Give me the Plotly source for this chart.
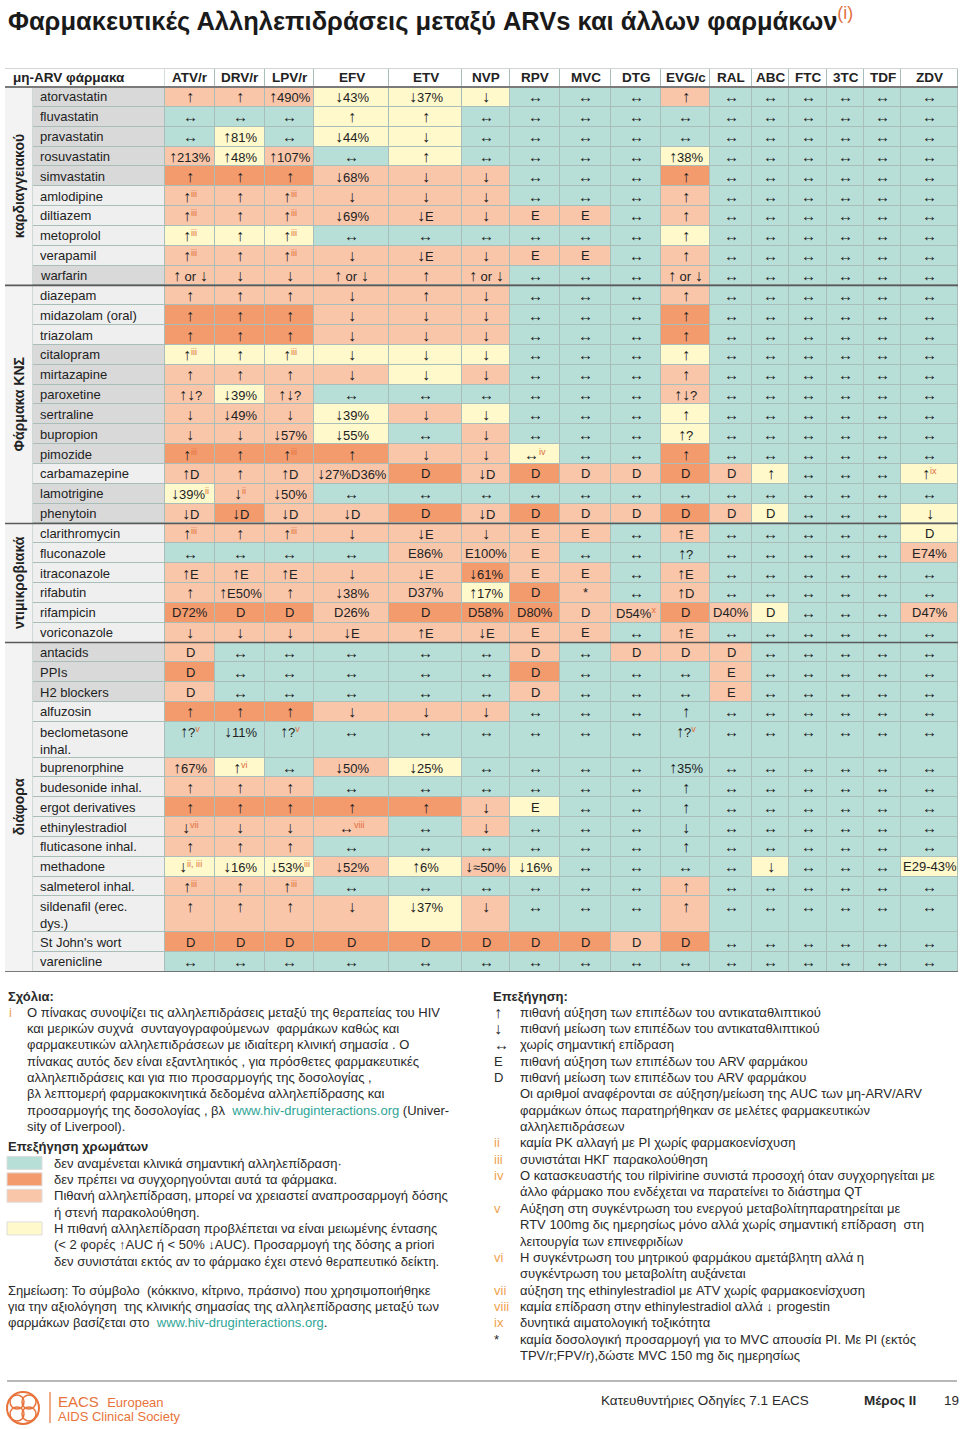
import plotly.graph_objects as go

W, H = 960, 1429
FONT = "Liberation Sans, Arial, sans-serif"

# ---------------- data ----------------
title_text = "Φαρμακευτικές Αλληλεπιδράσεις μεταξύ ARVs και άλλων φαρμάκων"
header_first = "μη-ARV φάρμακα"
arv_cols = ["ATV/r", "DRV/r", "LPV/r", "EFV", "ETV", "NVP", "RPV", "MVC", "DTG",
            "EVG/c", "RAL", "ABC", "FTC", "3TC", "TDF", "ZDV"]

group_names = ["καρδιαγγειακού", "Φάρμακα ΚΝΣ", "ντιμικροβιακά", "διάφορα"]
group_sizes = [10, 12, 6, 15]

drug_names = [
    "atorvastatin", "fluvastatin", "pravastatin", "rosuvastatin", "simvastatin",
    "amlodipine", "diltiazem", "metoprolol", "verapamil", "warfarin",
    "diazepam", "midazolam (oral)", "triazolam", "citalopram", "mirtazapine",
    "paroxetine", "sertraline", "bupropion", "pimozide", "carbamazepine",
    "lamotrigine", "phenytoin",
    "clarithromycin", "fluconazole", "itraconazole", "rifabutin", "rifampicin",
    "voriconazole",
    "antacids", "PPIs", "H2 blockers", "alfuzosin", "beclometasone inhal.",
    "buprenorphine", "budesonide inhal.", "ergot derivatives", "ethinylestradiol",
    "fluticasone inhal.", "methadone", "salmeterol inhal.", "sildenafil (erec. dys.)",
    "St John's wort", "varenicline",
]
# wrapped display of the two tall rows
name_display = {"beclometasone inhal.": "beclometasone<br>inhal.",
                "sildenafil (erec. dys.)": "sildenafil (erec.<br>dys.)"}
tall_rows = ["beclometasone inhal.", "sildenafil (erec. dys.)"]

# g = grey name cell, l = light name cell
name_shade = "gggggllllg" + "lllgggggglggg"[:12] + "llllll" + "ggg" + "l" * 12

# G = no interaction, Y = weak, O = potential, R = do not co-administer
cell_colors = [
    "OOOYYYGGGOGGGGGG", "GGGYYGGGGGGGGGGG", "GYGYYGGGGGGGGGGG", "OYOGYGGGGYGGGGGG",
    "RRROOOGGGRGGGGGG", "OOOOOOGGGOGGGGGG", "OOOOOOOOGOGGGGGG", "YYYGGGGGGYGGGGGG",
    "OOOOOOOOGOGGGGGG", "OOOOOOGGGOGGGGGG",
    "OOOOOOGGGOGGGGGG", "RRROOOGGGRGGGGGG", "RRROOOGGGRGGGGGG", "YYYYYYGGGYGGGGGG",
    "OOOOYOGGGOGGGGGG", "OYOGGGGGGOGGGGGG", "OOOYOYGGGYGGGGGG", "OOOYGOGGGYGGGGGG",
    "RRRROOYGGRGGGGGG", "OOOOROROOROYGGGY", "YOOGGGGGGGGGGGGG", "OROOROROOROYGGGY",
    "OOOOOOOOGOGGGGGY", "GGGGOOOGGGGGGGGO", "OOOOOROOGOGGGGGG", "OOOOOYROGOGGGGGG",
    "RRRORRROOROYGGGO", "OOOOOOOOGOGGGGGG",
    "OGGGGGOGOOOGGGGG", "RGGGGGRGGGOGGGGG", "OGGGGGOGGGOGGGGG", "RRROOOGGGGGGGGGG",
    "GGGGGGGGGGGGGGGG", "OYGOYGGGGGGGGGGG", "OOOGGGGGGGGGGGGG", "RRRRROYGGGGGGGGG",
    "OOOOGOGGGGGGGGGG", "OOOGGGGGGGGGGGGG", "YYYOYOYGGGGYGGGY", "OOOGGGGGGOGGGGGG",
    "OOOOYOGGGOGGGGGG", "RRRRRRRRORGGGGGG", "GGGGGGGGGGGGGGGG",
]
R6 = "|↔|↔|↔|↔|↔|↔"
cell_texts = [
    "↑|↑|↑490%|↓43%|↓37%|↓|↔|↔|↔|↑" + R6,
    "↔|↔|↔|↑|↑|↔|↔|↔|↔|↔" + R6,
    "↔|↑81%|↔|↓44%|↓|↔|↔|↔|↔|↔" + R6,
    "↑213%|↑48%|↑107%|↔|↑|↔|↔|↔|↔|↑38%" + R6,
    "↑|↑|↑|↓68%|↓|↓|↔|↔|↔|↑" + R6,
    "↑^iii|↑|↑^iii|↓|↓|↓|↔|↔|↔|↑" + R6,
    "↑^iii|↑|↑^iii|↓69%|↓E|↓|E|E|↔|↑" + R6,
    "↑^iii|↑|↑^iii|↔|↔|↔|↔|↔|↔|↑" + R6,
    "↑^iii|↑|↑^iii|↓|↓E|↓|E|E|↔|↑" + R6,
    "↑ or ↓|↓|↓|↑ or ↓|↑|↑ or ↓|↔|↔|↔|↑ or ↓" + R6,
    "↑|↑|↑|↓|↑|↓|↔|↔|↔|↑" + R6,
    "↑|↑|↑|↓|↓|↓|↔|↔|↔|↑" + R6,
    "↑|↑|↑|↓|↓|↓|↔|↔|↔|↑" + R6,
    "↑^iii|↑|↑^iii|↓|↓|↓|↔|↔|↔|↑" + R6,
    "↑|↑|↑|↓|↓|↓|↔|↔|↔|↑" + R6,
    "↑↓?|↓39%|↑↓?|↔|↔|↔|↔|↔|↔|↑↓?" + R6,
    "↓|↓49%|↓|↓39%|↓|↓|↔|↔|↔|↑" + R6,
    "↓|↓|↓57%|↓55%|↔|↓|↔|↔|↔|↑?" + R6,
    "↑^iii|↑|↑^iii|↑|↓|↓|↔^iv|↔|↔|↑" + R6,
    "↑D|↑|↑D|↓27%D36%|D|↓D|D|D|D|D|D|↑|↔|↔|↔|↑^ix",
    "↓39%^ii|↓^ii|↓50%|↔|↔|↔|↔|↔|↔|↔" + R6,
    "↓D|↓D|↓D|↓D|D|↓D|D|D|D|D|D|D|↔|↔|↔|↓",
    "↑^iii|↑|↑^iii|↓|↓E|↓|E|E|↔|↑E|↔|↔|↔|↔|↔|D",
    "↔|↔|↔|↔|E86%|E100%|E|↔|↔|↑?|↔|↔|↔|↔|↔|E74%",
    "↑E|↑E|↑E|↓|↓E|↓61%|E|E|↔|↑E" + R6,
    "↑|↑E50%|↑|↓38%|D37%|↑17%|D|*|↔|↑D" + R6,
    "D72%|D|D|D26%|D|D58%|D80%|D|D54%^x|D|D40%|D|↔|↔|↔|D47%",
    "↓|↓|↓|↓E|↑E|↓E|E|E|↔|↑E" + R6,
    "D|↔|↔|↔|↔|↔|D|↔|D|D|D|↔|↔|↔|↔|↔",
    "D|↔|↔|↔|↔|↔|D|↔|↔|↔|E|↔|↔|↔|↔|↔",
    "D|↔|↔|↔|↔|↔|D|↔|↔|↔|E|↔|↔|↔|↔|↔",
    "↑|↑|↑|↓|↓|↓|↔|↔|↔|↑" + R6,
    "↑?^v|↓11%|↑?^v|↔|↔|↔|↔|↔|↔|↑?^v" + R6,
    "↑67%|↑^vi|↔|↓50%|↓25%|↔|↔|↔|↔|↑35%" + R6,
    "↑|↑|↑|↔|↔|↔|↔|↔|↔|↑" + R6,
    "↑|↑|↑|↑|↑|↓|E|↔|↔|↑" + R6,
    "↓^vii|↓|↓|↔^viii|↔|↓|↔|↔|↔|↓" + R6,
    "↑|↑|↑|↔|↔|↔|↔|↔|↔|↑" + R6,
    "↓^ii, iii|↓16%|↓53%^iii|↓52%|↑6%|↓≈50%|↓16%|↔|↔|↔|↔|↓|↔|↔|↔|E29-43%",
    "↑^iii|↑|↑^iii|↔|↔|↔|↔|↔|↔|↑" + R6,
    "↑|↑|↑|↓|↓37%|↓|↔|↔|↔|↑" + R6,
    "D|D|D|D|D|D|D|D|D|D" + R6,
    "↔|↔|↔|↔|↔|↔|↔|↔|↔|↔" + R6,
]

notes_left = [
    "Ο πίνακας συνοψίζει τις αλληλεπιδράσεις μεταξύ της θεραπείας του HIV",
    "και μερικών συχνά  συνταγογραφούμενων  φαρμάκων καθώς και",
    "φαρμακευτικών αλληλεπιδράσεων με ιδιαίτερη κλινική σημασία . Ο",
    "πίνακας αυτός δεν είναι εξαντλητικός , για πρόσθετες φαρμακευτικές",
    "αλληλεπιδράσεις και για πιο προσαρμογής της δοσολογίας ,",
    "βλ λεπτομερή φαρμακοκινητικά δεδομένα αλληλεπίδρασης και",
    "προσαρμογής της δοσολογίας , βλ  <LINK>www.hiv-druginteractions.org</LINK> (Univer-",
    "sity of Liverpool).",
]
colour_legend = [
    ("G", ["δεν αναμένεται κλινικά σημαντική αλληλεπίδραση·"]),
    ("R", ["δεν πρέπει να συγχορηγούνται αυτά τα φάρμακα."]),
    ("O", ["Πιθανή αλληλεπίδραση, μπορεί να χρειαστεί αναπροσαρμογή δόσης",
           "ή στενή παρακολούθηση."]),
    ("Y", ["Η πιθανή αλληλεπίδραση προβλέπεται να είναι μειωμένης έντασης",
           "(< 2 φορές ↑AUC ή < 50% ↓AUC). Προσαρμογή της δόσης a priori",
           "δεν συνιστάται εκτός αν το φάρμακο έχει στενό θεραπευτικό δείκτη."]),
]
remark_lines = [
    "Σημείωση: Το σύμβολο  (κόκκινο, κίτρινο, πράσινο) που χρησιμοποιήθηκε",
    "για την αξιολόγηση  της κλινικής σημασίας της αλληλεπίδρασης μεταξύ των",
    "φαρμάκων βασίζεται στο  <LINK>www.hiv-druginteractions.org</LINK>.",
]
key_items = [
    ("↑", ["πιθανή αύξηση των επιπέδων του αντικαταθλιπτικού"]),
    ("↓", ["πιθανή μείωση των επιπέδων του αντικαταθλιπτικού"]),
    ("↔", ["χωρίς σημαντική επίδραση"]),
    ("E", ["πιθανή αύξηση των επιπέδων του ARV φαρμάκου"]),
    ("D", ["πιθανή μείωση των επιπέδων του ARV φαρμάκου"]),
    ("", ["Οι αριθμοί αναφέρονται σε αύξηση/μείωση της AUC των μη-ARV/ARV",
          "φαρμάκων όπως παρατηρήθηκαν σε μελέτες φαρμακευτικών",
          "αλληλεπιδράσεων"]),
    ("ii", ["καμία PK αλλαγή με PI χωρίς φαρμακοενίσχυση"]),
    ("iii", ["συνιστάται ΗΚΓ παρακολούθηση"]),
    ("iv", ["Ο κατασκευαστής του rilpivirine συνιστά προσοχή όταν συγχορηγείται με",
            "άλλο φάρμακο που ενδέχεται να παρατείνει το διάστημα QT"]),
    ("v", ["Αύξηση στη συγκέντρωση του ενεργού μεταβολίτηπαρατηρείται με",
           "RTV 100mg δις ημερησίως μόνο αλλά χωρίς σημαντική επίδραση  στη",
           "λειτουργία των επινεφριδίων"]),
    ("vi", ["Η συγκέντρωση του μητρικού φαρμάκου αμετάβλητη αλλά η",
            "συγκέντρωση του μεταβολίτη αυξάνεται"]),
    ("vii", ["αύξηση της ethinylestradiol με ATV χωρίς φαρμακοενίσχυση"]),
    ("viii", ["καμία επίδραση στην ethinylestradiol αλλά ↓ progestin"]),
    ("ix", ["δυνητικά αιματολογική τοξικότητα"]),
    ("*", ["καμία δοσολογική προσαρμογή για το MVC απουσία PI. Με PI (εκτός",
           "TPV/r;FPV/r),δώστε MVC 150 mg δις ημερησίως"]),
]
footer_center = "Κατευθυντήριες Οδηγίες 7.1 EACS"
footer_part = "Μέρος II"
footer_page = "19"

# ---------------- styling / geometry ----------------
COL = {"G": "#b7dfd8", "Y": "#fff9cc", "O": "#f9c6aa", "R": "#f49b6e",
       "g": "#d9d9d9", "l": "#efefef", "h": "#ffffff"}
CODE = {"G": 0, "Y": 1, "O": 2, "R": 3, "g": 4, "l": 5, "h": 6}
ORDER = ["G", "Y", "O", "R", "g", "l", "h"]
SUP_COL = "#e2703d"
NOTE_ORANGE = "#f0a24e"
LINK_COL = "#2fa597"
TXT = "#222222"
GRID = "#a9bdb9"

col_edges = [33, 165, 215, 265, 314, 389, 462, 510, 560, 611, 661, 710, 752,
             789, 827, 864, 901, 958]
TABLE_L, TABLE_R = 5, 958
TABLE_TOP, HEADER_BOTTOM = 68, 87
ROW_H, TALL_H = 19.84, 35.7

heights = [TALL_H if n in tall_rows else ROW_H for n in drug_names]
row_edges = [TABLE_TOP, HEADER_BOTTOM]
for hgt in heights:
    row_edges.append(row_edges[-1] + hgt)
TABLE_BOTTOM = row_edges[-1]

# z matrix
z = [[CODE["h"]] * (len(arv_cols) + 1)]
for i, n in enumerate(drug_names):
    z.append([CODE[name_shade[i]]] + [CODE[c] for c in cell_colors[i]])

ncat = len(ORDER)
cscale = []
for k, key in enumerate(ORDER):
    cscale.append([k / ncat, COL[key]])
    cscale.append([(k + 1) / ncat, COL[key]])

fig = go.Figure()
fig.add_trace(go.Heatmap(
    x=col_edges, y=row_edges, z=z, colorscale=cscale, zmin=-0.5, zmax=ncat - 0.5,
    showscale=False, xgap=1, ygap=1, hoverinfo="skip",
))


def px(x):
    return x / W


def py(y):
    return 1 - y / H


def fmt_arrows(t):
    t = t.replace("↑", "<span style='font-size:16px'>↑</span>")
    t = t.replace("↓", "<span style='font-size:16px'>↓</span>")
    t = t.replace("↔", "<span style='font-size:15px'>↔</span>")
    return t


def fmt_cell(t):
    if "^" in t:
        base, sup = t.split("^", 1)
        return f"{fmt_arrows(base)}<sup><span style='color:{SUP_COL}'>{sup}</span></sup>"
    return fmt_arrows(t)


def fmt_link(t):
    return t.replace("<LINK>", f"<span style='color:{LINK_COL}'>").replace("</LINK>", "</span>")


ann = []
shapes = []

# header
for j, name in enumerate(arv_cols):
    xc = (col_edges[j + 1] + col_edges[j + 2]) / 2
    ann.append(dict(x=xc, y=(TABLE_TOP + HEADER_BOTTOM) / 2, xref="x", yref="y",
                    yanchor="middle", text=f"<b>{name}</b>", showarrow=False,
                    font=dict(family=FONT, size=13.5, color=TXT)))
shapes.append(dict(type="rect", xref="x", yref="y", x0=TABLE_L, x1=col_edges[1] - 0.5,
                   y0=TABLE_TOP, y1=HEADER_BOTTOM - 0.5, fillcolor="white",
                   line=dict(width=0), layer="above"))
ann.append(dict(x=TABLE_L + 6, y=(TABLE_TOP + HEADER_BOTTOM) / 2, xref="x", yref="y",
                xanchor="left", yanchor="middle", text=f"<b>{header_first}</b>",
                showarrow=False, font=dict(family=FONT, size=13.5, color=TXT)))

# rows
for i, n in enumerate(drug_names):
    top = row_edges[i + 1]
    yc = top + ROW_H / 2
    disp = name_display.get(n, n)
    if n in tall_rows:
        ann.append(dict(x=col_edges[0] + 5, y=top + 1, xref="x", yref="y",
                        xanchor="left", yanchor="top", text=disp, showarrow=False,
                        align="left", font=dict(family=FONT, size=13, color=TXT)))
    else:
        ann.append(dict(x=col_edges[0] + 5, y=yc, xref="x", yref="y",
                        xanchor="left", yanchor="middle", text=disp, showarrow=False,
                        font=dict(family=FONT, size=13, color=TXT)))
    texts = cell_texts[i].split("|")
    for j, t in enumerate(texts):
        xc = (col_edges[j + 1] + col_edges[j + 2]) / 2
        ann.append(dict(x=xc, y=yc, xref="x", yref="y", yanchor="middle",
                        text=fmt_cell(t), showarrow=False,
                        font=dict(family=FONT, size=13, color=TXT)))

# group column
start = 0
for g, cnt in zip(group_names, group_sizes):
    y0 = row_edges[start + 1]
    y1 = row_edges[start + cnt + 1]
    shapes.append(dict(type="rect", xref="x", yref="y", x0=TABLE_L, x1=col_edges[0] - 0.5,
                       y0=y0, y1=y1, fillcolor="#f3f3f3", line=dict(width=0), layer="above"))
    ann.append(dict(x=(TABLE_L + col_edges[0]) / 2, y=(y0 + y1) / 2, xref="x", yref="y",
                    yanchor="middle", text=f"<b>{g}</b>", textangle=-90, showarrow=False,
                    font=dict(family=FONT, size=14, color=TXT)))
    if start > 0:
        shapes.append(dict(type="line", xref="x", yref="y", x0=TABLE_L, x1=TABLE_R,
                           y0=y0, y1=y0, line=dict(color="#5a5a5a", width=1.6), layer="above"))
    start += cnt

shapes.append(dict(type="line", xref="x", yref="y", x0=TABLE_L, x1=TABLE_R,
                   y0=HEADER_BOTTOM, y1=HEADER_BOTTOM, line=dict(color="#7a7a7a", width=2),
                   layer="above"))
shapes.append(dict(type="line", xref="x", yref="y", x0=TABLE_L, x1=TABLE_R,
                   y0=TABLE_TOP, y1=TABLE_TOP, line=dict(color="#d4d4d4", width=2),
                   layer="above"))
shapes.append(dict(type="line", xref="x", yref="y", x0=TABLE_L, x1=TABLE_R,
                   y0=TABLE_BOTTOM, y1=TABLE_BOTTOM, line=dict(color="#5a5a5a", width=1.6),
                   layer="above"))

# title
ann.append(dict(x=px(6), y=py(19), xref="paper", yref="paper", xanchor="left",
                yanchor="middle",
                text=f"<b>{title_text}</b><sup><span style='color:{SUP_COL}'>(i)</span></sup>",
                showarrow=False, font=dict(family=FONT, size=25.5, color="#1a1a1a")))

NF = 13
LS = 16.36


def note(x, y, text, color="#2a2a2a", size=NF, bold=False):
    t = f"<b>{text}</b>" if bold else text
    ann.append(dict(x=px(x), y=py(y), xref="paper", yref="paper", xanchor="left",
                    yanchor="middle", text=t, showarrow=False,
                    font=dict(family=FONT, size=size, color=color)))


# left notes
note(6, 996, "Σχόλια:", bold=True)
note(7, 1012, "i", color=NOTE_ORANGE)
for k, line in enumerate(notes_left):
    note(25, 1012 + k * LS, fmt_link(line))
note(6, 1146, "Επεξήγηση χρωμάτων", bold=True)
yy = 1163
for key, lines in colour_legend:
    shapes.append(dict(type="rect", xref="paper", yref="paper", x0=px(7), x1=px(42),
                       y0=py(yy + 6.5), y1=py(yy - 6.5), fillcolor=COL[key],
                       line=dict(color="#dddddd", width=1)))
    for line in lines:
        note(52, yy, line)
        yy += LS
for k, line in enumerate(remark_lines):
    note(6, 1290 + k * LS, fmt_link(line))

# right key
note(491, 996, "Επεξήγηση:", bold=True)
yy = 1012
for sym, lines in key_items:
    if sym:
        is_roman = sym not in ("↑", "↓", "↔", "E", "D", "*")
        note(492, yy, fmt_arrows(sym), color=NOTE_ORANGE if is_roman else "#2a2a2a")
    for line in lines:
        note(518, yy, line)
        yy += LS

# footer
shapes.append(dict(type="line", xref="paper", yref="paper", x0=px(7), x1=px(957),
                   y0=py(1381), y1=py(1381), line=dict(color="#a0a0a0", width=1.5)))
LOGO = "#e8743b"
cx, cy = 23, 1408
shapes.append(dict(type="circle", xref="paper", yref="paper", x0=px(cx - 16), x1=px(cx + 16),
                   y0=py(cy + 16), y1=py(cy - 16), line=dict(color=LOGO, width=2)))
for dx, dy in [(-6, -6), (6, -6), (-6, 6), (6, 6)]:
    shapes.append(dict(type="circle", xref="paper", yref="paper",
                       x0=px(cx + dx - 7), x1=px(cx + dx + 7),
                       y0=py(cy + dy + 7), y1=py(cy + dy - 7), line=dict(color=LOGO, width=1.5)))
shapes.append(dict(type="line", xref="paper", yref="paper", x0=px(50), x1=px(50),
                   y0=py(1392), y1=py(1423), line=dict(color=LOGO, width=1.2)))
ann.append(dict(x=px(56), y=py(1401), xref="paper", yref="paper", xanchor="left",
                yanchor="middle",
                text="EACS  <span style='font-size:13px'>European</span>", showarrow=False,
                font=dict(family="Liberation Sans Narrow, " + FONT, size=15, color=LOGO)))
ann.append(dict(x=px(56), y=py(1416), xref="paper", yref="paper", xanchor="left",
                yanchor="middle", text="AIDS Clinical Society", showarrow=False,
                font=dict(family="Liberation Sans Narrow, " + FONT, size=13, color=LOGO)))
note(599, 1400, footer_center, size=13.5)
note(862, 1400, footer_part, size=13.5, bold=True)
note(942, 1400, footer_page, size=13.5)

fig.update_layout(
    width=W, height=H, autosize=False,
    margin=dict(l=0, r=0, t=0, b=0),
    paper_bgcolor="white", plot_bgcolor=GRID,
    xaxis=dict(domain=[TABLE_L / W, TABLE_R / W], range=[TABLE_L, TABLE_R],
               showgrid=False, zeroline=False, showticklabels=False, ticks="",
               fixedrange=True),
    yaxis=dict(domain=[1 - TABLE_BOTTOM / H, 1 - TABLE_TOP / H],
               range=[TABLE_BOTTOM, TABLE_TOP], showgrid=False, zeroline=False,
               showticklabels=False, ticks="", fixedrange=True),
    annotations=ann, shapes=shapes, showlegend=False,
)

fig.write_html("out.html", config={"staticPlot": True},
               post_script="document.body.style.margin='0';document.body.style.overflow='hidden';")
